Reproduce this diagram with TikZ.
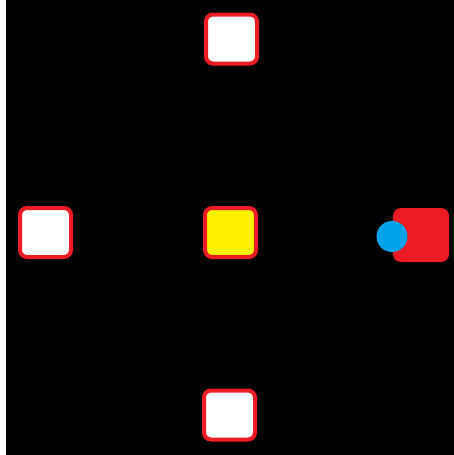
\documentclass[tikz,border=0pt]{standalone}
\definecolor{paintred}{RGB}{237,28,36}
\definecolor{paintyellow}{RGB}{255,242,0}
\definecolor{paintblue}{RGB}{0,162,232}
\tikzset{
  tile/.style = {draw=paintred, line width=4pt, rounded corners=7pt,
                 fill=white, minimum width=51pt, minimum height=49pt, inner sep=0pt},
  goal/.style = {tile, fill=paintyellow},
  player/.style = {fill=paintred, rounded corners=8pt,
                   minimum width=56pt, minimum height=54pt, inner sep=0pt},
  ball/.style = {circle, fill=paintblue, minimum size=31pt, inner sep=0pt}
}
\begin{document}
\begin{tikzpicture}[x=1pt, y=-1pt]
\useasboundingbox (0,0) rectangle (454,455);
\fill[white] (0,0) rectangle (454,455);
\fill[black] (6,0) rectangle (454,455);
\node[tile] (top) at (231.5,39) {};
\node[tile] (left) at (45.5,232.5) {};
\node[goal] (centre) at (230.5,232.5) {};
\node[tile] (bottom) at (229.5,415) {};
\node[player] (right) at (421,235) {};
\node[ball] (dot) at (392,236.5) {};
\end{tikzpicture}
\end{document}
